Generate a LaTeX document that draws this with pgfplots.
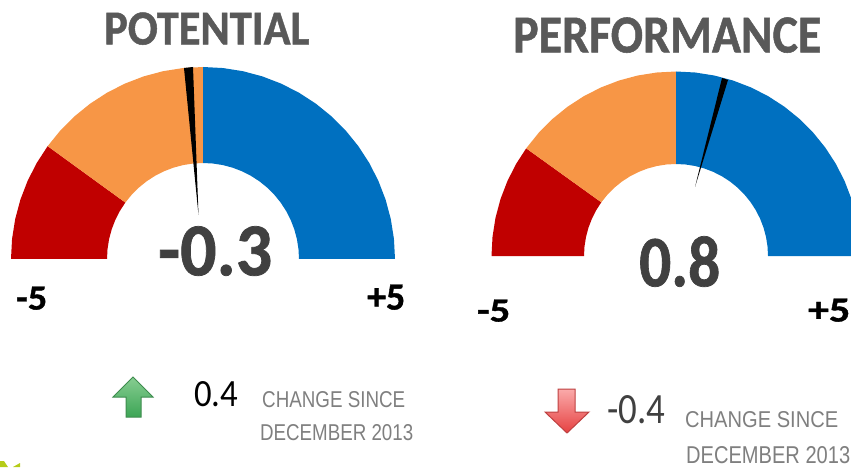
\documentclass[border=0pt]{standalone}
\usepackage{graphicx}
\usepackage{fontspec}
\setmainfont[BoldFeatures={FakeBold=1}]{Carlito}
\newfontfamily\arialf{Liberation Sans}
\usepackage{pgfplots}
\pgfplotsset{compat=1.18}
\definecolor{gred}{HTML}{C00000}
\definecolor{gorange}{HTML}{F79646}
\definecolor{gblue}{HTML}{0070C0}
\definecolor{titlegray}{HTML}{595959}
\definecolor{valgray}{HTML}{404040}
\definecolor{notegray}{HTML}{7F7F7F}
% page is one big pixel grid, every axis sits on the same box
\pgfplotsset{page/.style={
  at={(0,0)}, anchor=south west, scale only axis, hide axis,
  width=851pt, height=467pt},
  wedge/.style={fill=#1, draw=none, data cs=polar},
  needle/.style={fill=black, draw=none}}
% x left, y bottom, width, height, colour, text
\newcommand{\lab}[6]{\node[anchor=south west, inner sep=0pt, text=#5] at (axis cs:#1,#2) {\resizebox{#3pt}{#4pt}{#6}};}
\begin{document}
\begin{tikzpicture}
\useasboundingbox (0,0) rectangle (851pt,467pt);
% POTENTIAL gauge, centre at pixel (203,259)
\begin{axis}[page, xmin=-203, xmax=648, ymin=-208, ymax=259]
\addplot[wedge=gred] coordinates {(180,192)(174,192)(168,192)(162,192)(156,192)(150,192)(144,192)
 (144,96)(150,96)(156,96)(162,96)(168,96)(174,96)(180,96)} -- cycle;
\addplot[wedge=gorange] coordinates {(144,192)(138,192)(132,192)(126,192)(120,192)(114,192)(108,192)(102,192)(96,192)(90,192)
 (90,96)(96,96)(102,96)(108,96)(114,96)(120,96)(126,96)(132,96)(138,96)(144,96)} -- cycle;
\addplot[wedge=gblue] coordinates {(90,192)(84,192)(78,192)(72,192)(66,192)(60,192)(54,192)(48,192)(42,192)(36,192)(30,192)(24,192)(18,192)(12,192)(6,192)(0,192)
 (0,96)(6,96)(12,96)(18,96)(24,96)(30,96)(36,96)(42,96)(48,96)(54,96)(60,96)(66,96)(72,96)(78,96)(84,96)(90,96)} -- cycle;
\addplot[needle] coordinates {(-19,191)(-10,192)(-4.5,44)} -- cycle;
\end{axis}
% PERFORMANCE gauge, centre at pixel (676,256)
\begin{axis}[page, xmin=-676, xmax=175, ymin=-211, ymax=256]
\addplot[wedge=gred] coordinates {(180,184.5)(174,184.5)(168,184.5)(162,184.5)(156,184.5)(150,184.5)(144.3,184.5)
 (144.3,92)(150,92)(156,92)(162,92)(168,92)(174,92)(180,92)} -- cycle;
\addplot[wedge=gorange] coordinates {(144.3,184.5)(138,184.5)(132,184.5)(126,184.5)(120,184.5)(114,184.5)(108,184.5)(102,184.5)(96,184.5)(90,184.5)
 (90,92)(96,92)(102,92)(108,92)(114,92)(120,92)(126,92)(132,92)(138,92)(144.3,92)} -- cycle;
\addplot[wedge=gblue] coordinates {(90,184.5)(84,184.5)(78,184.5)(72,184.5)(66,184.5)(60,184.5)(54,184.5)(48,184.5)(42,184.5)(36,184.5)(30,184.5)(24,184.5)(18,184.5)(12,184.5)(6,184.5)(0,184.5)
 (0,92)(6,92)(12,92)(18,92)(24,92)(30,92)(36,92)(42,92)(48,92)(54,92)(60,92)(66,92)(72,92)(78,92)(84,92)(90,92)} -- cycle;
\addplot[needle] coordinates {(46,178)(52,176)(19,69)} -- cycle;
\end{axis}
% text and arrows, in pixel coordinates of the reference
\begin{axis}[page, xmin=0, xmax=851, ymin=0, ymax=467, y dir=reverse]
\addplot[draw=none, fill={rgb,255:red,181;green,204;blue,24}] coordinates {(0,461)(4,461)(8,467)(0,467)} -- cycle;
\addplot[draw=none, fill={rgb,255:red,181;green,204;blue,24}] coordinates {(13,467)(20,463)(20,467)} -- cycle;
\addplot[draw={rgb,255:red,62;green,140;blue,78}, line width=1pt, bottom color={rgb,255:red,60;green,165;blue,85}, top color={rgb,255:red,135;green,205;blue,145}]
 coordinates {(133,377)(153,397)(141,397)(141,417)(126,417)(126,397)(113,397)} -- cycle;
\addplot[draw={rgb,255:red,190;green,65;blue,65}, line width=1pt, top color={rgb,255:red,250;green,170;blue,170}, bottom color={rgb,255:red,230;green,65;blue,65}]
 coordinates {(558,389)(575,389)(575,412)(589,412)(567,433)(545,412)(558,412)} -- cycle;
\lab{104}{45}{205}{32}{titlegray}{\bfseries POTENTIAL}
\lab{513}{53}{308}{35}{titlegray}{\bfseries PERFORMANCE}
\lab{158}{276}{114}{49}{valgray}{\bfseries -0.3}
\lab{639}{287}{81}{50}{valgray}{\bfseries 0.8}
\lab{16}{310}{31}{23}{black}{\bfseries -5}
\lab{367}{310}{38}{25}{black}{\bfseries +5}
\lab{477}{322}{33}{22}{black}{\bfseries -5}
\lab{808}{322}{42}{23}{black}{\bfseries +5}
\lab{194}{407}{44}{25}{black}{0.4}
\lab{607}{424}{58}{28}{valgray}{-0.4}
\lab{262}{408}{143}{16}{notegray}{\arialf CHANGE SINCE}
\lab{260}{441}{153}{16}{notegray}{\arialf DECEMBER 2013}
\lab{685}{428}{153}{16}{notegray}{\arialf CHANGE SINCE}
\lab{686}{464}{164}{17}{notegray}{\arialf DECEMBER 2013}
\end{axis}
\end{tikzpicture}
\end{document}
